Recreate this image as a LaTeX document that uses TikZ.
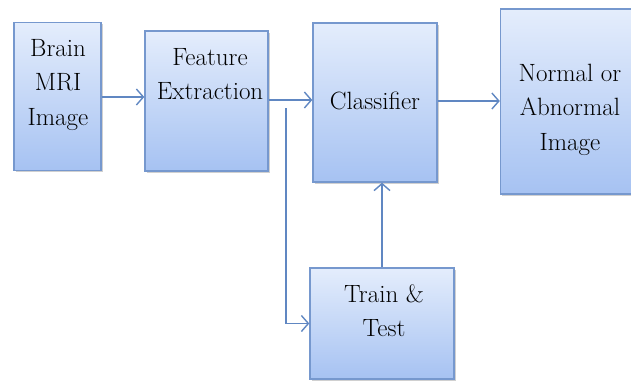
\documentclass[tikz,border=0pt]{standalone}
\usepackage{fontspec}
\usetikzlibrary{arrows.meta,shadows}
\definecolor{boxborder}{RGB}{118,152,206}
\definecolor{boxtop}{RGB}{228,237,252}
\definecolor{boxbot}{RGB}{166,194,242}
\definecolor{arrowcol}{RGB}{96,135,194}
\tikzset{
  blockbox/.style={draw=boxborder, line width=1.4pt, top color=boxtop, bottom color=boxbot,
    inner sep=0pt, drop shadow={shadow xshift=1.5pt, shadow yshift=-1.5pt, opacity=0.3, fill=black!60}},
  blocktext/.style={anchor=north, align=center, inner sep=0pt,
    font=\rmfamily\fontsize{25}{34.5}\selectfont},
  arr/.style={draw=arrowcol, line width=1.4pt, -{Straight Barb[length=7pt, width=16pt, line width=1.4pt]}},
}
\begin{document}
\begin{tikzpicture}[x=1pt, y=-1pt]
\fill[white] (0,0) rectangle (631,381);
\useasboundingbox (0,0) rectangle (631,381);
% boxes
\node[blockbox, minimum width=87pt, minimum height=148pt] (b1) at (57.5,96.5) {};
\node[blockbox, minimum width=123pt, minimum height=140pt] (b2) at (206.5,101) {};
\node[blockbox, minimum width=124pt, minimum height=159pt] (b3) at (375,102.5) {};
\node[blockbox, minimum width=131pt, minimum height=185pt] (b4) at (566,101.5) {};
\node[blockbox, minimum width=144pt, minimum height=111pt] (b5) at (382,323.5) {};
% texts
\node[blocktext] (t1) at (58,31.9) {\strut Brain\\\strut MRI\\\strut Image};
\node[blocktext] (t2) at (210,40.9) {\strut Feature\\\strut Extraction};
\node[blocktext] (t3) at (375,84.9) {\strut Classifier};
\node[blocktext] (t4) at (570,56.9) {\strut Normal or\\\strut Abnormal\\\strut Image};
\node[blocktext] (t5) at (384,277.9) {\strut Train \&\\\strut Test};
% connectors
\draw[arr] (b1.east |- 0,97) -- (b2.west |- 0,97);
\draw[arr] (b2.east |- 0,100) -- (b3.west |- 0,100);
\draw[arr] (b3.east |- 0,101) -- (b4.west |- 0,101);
\draw[arr] (b5.north) -- (b3.south -| b5.north);
\coordinate (br) at (286,108);
\draw[arr] (br) |- (b5.west);
\end{tikzpicture}
\end{document}
